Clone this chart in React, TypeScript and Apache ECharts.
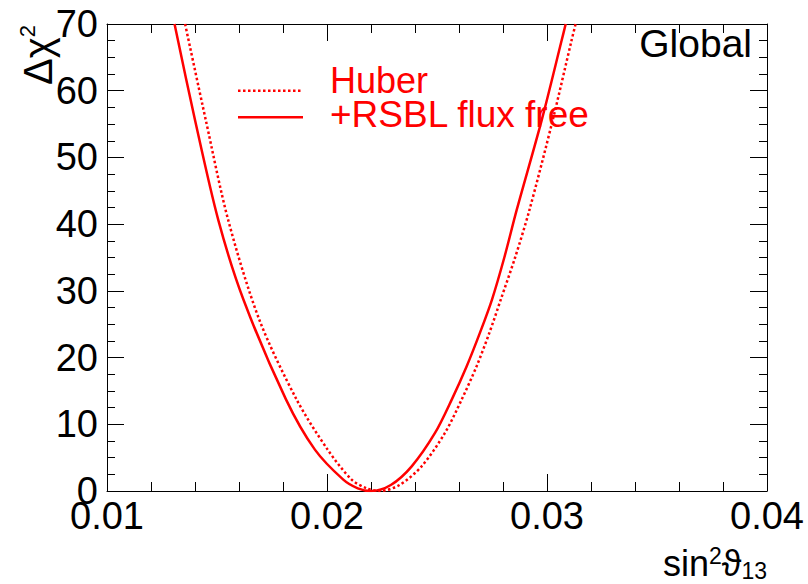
import React, { useEffect, useRef } from "react";
import * as echarts from "echarts";

// sin^2(theta13) values and Delta chi^2 values
const huberX = [0.01355, 0.01449, 0.01551, 0.01692, 0.01862, 0.02003, 0.02112, 0.0218, 0.0224, 0.0233, 0.0243, 0.02536, 0.02612, 0.0268, 0.02738, 0.0279, 0.02855, 0.0292, 0.03026, 0.03112, 0.0313];
const huberY = [70, 55.6, 40.6, 25.7, 13.7, 6.2, 1.7, 0.4, 0, 0.9, 3.7, 8.7, 13.7, 18.7, 23.7, 28.7, 35, 42.1, 55.6, 67.6, 70];

const rsblX = [0.01307, 0.014, 0.01506, 0.0162, 0.01814, 0.01945, 0.02074, 0.0214, 0.022, 0.0229, 0.02385, 0.02491, 0.02567, 0.02635, 0.02695, 0.0275, 0.02806, 0.02862, 0.02976, 0.03067, 0.03085];
const rsblY = [70, 55.6, 40.6, 28.7, 13.7, 6.2, 1.7, 0.4, 0, 0.9, 3.7, 8.7, 13.7, 18.7, 23.7, 28.7, 35, 42.1, 55.6, 67.6, 70];

const seriesNames = ["Huber", "+RSBL flux free"];
const xRange = [0.01, 0.04];
const yRange = [0, 70];

const FONT = "'Liberation Sans', 'DejaVu Sans', sans-serif";
const RED = "#ff0000";

const zip = (xs: number[], ys: number[]) => xs.map((x, i) => [x, ys[i]]);

export default function App() {
  const ref = useRef<HTMLDivElement>(null);
  useEffect(() => {
    if (!ref.current) return;
    const chart = echarts.init(ref.current, undefined, { renderer: "svg" });
    const axisCommon = {
      axisLine: { show: true, onZero: false, lineStyle: { color: "#000", width: 1 } },
      splitLine: { show: false },
    };
    const xCommon = {
      ...axisCommon,
      type: "value" as const,
      min: xRange[0],
      max: xRange[1],
      interval: 0.01,
      axisTick: { show: true, inside: true, length: 17, lineStyle: { color: "#000" } },
      minorTick: { show: true, splitNumber: 5, length: 9, lineStyle: { color: "#000" } },
    };
    const yCommon = {
      ...axisCommon,
      type: "value" as const,
      min: yRange[0],
      max: yRange[1],
      interval: 10,
      axisTick: { show: true, inside: true, length: 17, lineStyle: { color: "#000" } },
      minorTick: { show: true, splitNumber: 4, length: 8, lineStyle: { color: "#000" } },
    };
    chart.setOption({
      animation: false,
      backgroundColor: "#fff",
      grid: { left: 107, top: 24, right: 41, bottom: 93, containLabel: false },
      xAxis: [
        {
          ...xCommon,
          position: "bottom",
          axisLabel: {
            fontSize: 38,
            color: "#000",
            fontFamily: FONT,
            margin: 6,
            formatter: (v: number) => v.toFixed(2),
          },
        },
        { ...xCommon, position: "top", axisLabel: { show: false } },
      ],
      yAxis: [
        {
          ...yCommon,
          position: "left",
          axisLabel: { fontSize: 38, color: "#000", fontFamily: FONT, margin: 9 },
        },
        { ...yCommon, position: "right", axisLabel: { show: false } },
      ],
      series: [
        {
          name: seriesNames[0],
          type: "line",
          data: zip(huberX, huberY),
          showSymbol: false,
          symbol: "none",
          smooth: 0.3,
          clip: true,
          lineStyle: { color: RED, width: 2.5, type: [2.5, 2.5] },
        },
        {
          name: seriesNames[1],
          type: "line",
          data: zip(rsblX, rsblY),
          showSymbol: false,
          symbol: "none",
          smooth: 0.3,
          clip: true,
          lineStyle: { color: RED, width: 2.5 },
        },
      ],
      graphic: [
        {
          type: "line",
          shape: { x1: 238, y1: 90.7, x2: 303, y2: 90.7 },
          style: { stroke: RED, lineWidth: 2.5, lineDash: [2.5, 2.5] },
        },
        {
          type: "line",
          shape: { x1: 238, y1: 117.3, x2: 303, y2: 117.3 },
          style: { stroke: RED, lineWidth: 2.5 },
        },
        {
          type: "text",
          x: 330,
          y: 80,
          style: { text: seriesNames[0], fill: RED, font: `36px ${FONT}`, lineHeight: 30, align: "left", verticalAlign: "middle" },
        },
        {
          type: "text",
          x: 330,
          y: 114,
          style: { text: seriesNames[1], fill: RED, font: `37px ${FONT}`, lineHeight: 30, align: "left", verticalAlign: "middle" },
        },
        {
          type: "text",
          x: 752,
          y: 43,
          style: { text: "Global", fill: "#000", font: `39px ${FONT}`, align: "right", verticalAlign: "middle" },
        },
        {
          type: "text",
          x: 767,
          y: 563,
          style: {
            text: "sin{sup|2}ϑ{sub|13}",
            fill: "#000",
            font: `36px ${FONT}`,
            align: "right",
            verticalAlign: "middle",
            rich: {
              sup: { fontSize: 23, fontFamily: FONT, verticalAlign: "top", lineHeight: 38 },
              sub: { fontSize: 23, fontFamily: FONT, verticalAlign: "bottom", lineHeight: 38 },
            },
          },
        },
        {
          type: "text",
          x: 38,
          y: 55,
          rotation: Math.PI / 2,
          style: {
            text: "Δχ{sup|2}",
            fill: "#000",
            font: `40px ${FONT}`,
            align: "center",
            verticalAlign: "middle",
            rich: {
              sup: { fontSize: 22, fontFamily: FONT, verticalAlign: "top", lineHeight: 44 },
            },
          },
        },
      ],
    });
    return () => chart.dispose();
  }, []);
  return (
    <div
      ref={ref}
      style={{ position: "fixed", left: 0, top: 0, width: 808, height: 584, background: "#fff" }}
    />
  );
}
